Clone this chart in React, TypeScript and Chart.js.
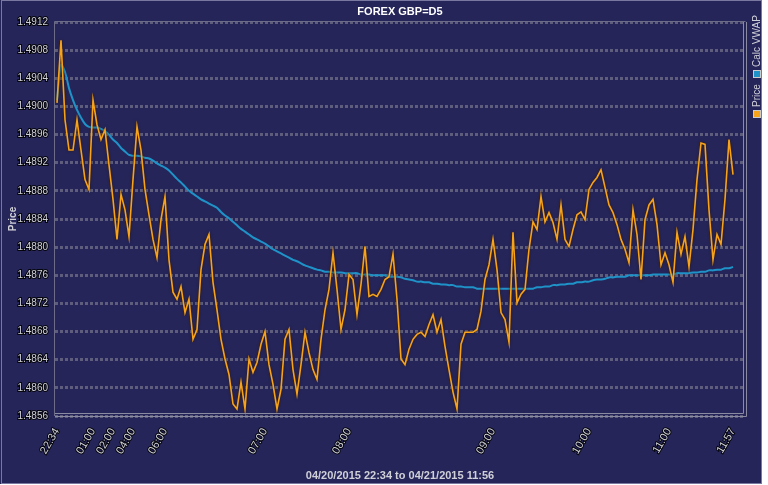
import React, { useEffect, useRef } from "react";
import { Chart, registerables } from "chart.js";

Chart.register(...registerables);

// Price samples (evenly spaced along the compressed time axis)
const priceValues = [
  1.49005, 1.49094, 1.48981, 1.48938, 1.48938, 1.48981, 1.48938, 1.48896, 1.48882, 1.49009,
  1.48974, 1.48953, 1.48967, 1.48917, 1.48868, 1.48811, 1.48875, 1.48853, 1.48815, 1.48896,
  1.48971, 1.48938, 1.48882, 1.48846, 1.48811, 1.48785, 1.48839, 1.48872, 1.48782, 1.48736,
  1.48726, 1.48744, 1.48707, 1.48726, 1.48669, 1.48683, 1.48768, 1.48804, 1.48818, 1.48750,
  1.48711, 1.48669, 1.48641, 1.48619, 1.48577, 1.48570, 1.48608, 1.48570, 1.48641, 1.48622,
  1.48636, 1.48662, 1.48680, 1.48633, 1.48605, 1.48570, 1.48598, 1.48669, 1.48683, 1.48626,
  1.48591, 1.48633, 1.48679, 1.48650, 1.48626, 1.48612, 1.48669, 1.48711, 1.48740, 1.48792,
  1.48740, 1.48683, 1.48711, 1.48761, 1.48754, 1.48704, 1.48747, 1.48801, 1.48730, 1.48733,
  1.48730, 1.48740, 1.48754, 1.48758, 1.48790, 1.48726, 1.48641, 1.48633, 1.48655, 1.48669,
  1.48676, 1.48679, 1.48673, 1.48690, 1.48704, 1.48679, 1.48697, 1.48659, 1.48626, 1.48594,
  1.48570, 1.48662, 1.48679, 1.48679, 1.48679, 1.48683, 1.48709, 1.48754, 1.48775, 1.48811,
  1.48768, 1.48707, 1.48697, 1.48665, 1.48821, 1.48721, 1.48733, 1.48740, 1.48797, 1.48836,
  1.48825, 1.48872, 1.48836, 1.48849, 1.48835, 1.48811, 1.48860, 1.48811, 1.48801, 1.48825,
  1.48846, 1.48850, 1.48839, 1.48882, 1.48892, 1.48899, 1.48910, 1.48885, 1.48860, 1.48849,
  1.48832, 1.48811, 1.48797, 1.48778, 1.48853, 1.48818, 1.48754, 1.48839, 1.48860, 1.48868,
  1.48832, 1.48775, 1.48792, 1.48775, 1.48750, 1.48821, 1.48790, 1.48815, 1.48772, 1.48825,
  1.48896, 1.48948, 1.48946, 1.48853, 1.48782, 1.48818, 1.48804, 1.48868, 1.48953, 1.48903,
];

const vwapValues = [
  1.49009, 1.49059, 1.49049, 1.49026, 1.49009, 1.48995, 1.48984, 1.48975, 1.48971, 1.48970,
  1.48970, 1.48968, 1.48965, 1.48960, 1.48953, 1.48948, 1.48941, 1.48936, 1.48931, 1.48930,
  1.48930, 1.48929, 1.48927, 1.48926, 1.48923, 1.48919, 1.48916, 1.48913, 1.48909, 1.48903,
  1.48897, 1.48892, 1.48886, 1.48880, 1.48876, 1.48872, 1.48868, 1.48865, 1.48862, 1.48859,
  1.48856, 1.48850, 1.48845, 1.48841, 1.48836, 1.48831, 1.48826, 1.48822, 1.48818, 1.48814,
  1.48811, 1.48808, 1.48805, 1.48801, 1.48797, 1.48794, 1.48791, 1.48788, 1.48785, 1.48782,
  1.48780, 1.48777, 1.48774, 1.48772, 1.48770, 1.48768, 1.48767, 1.48765, 1.48765, 1.48764,
  1.48764, 1.48764, 1.48763, 1.48763, 1.48763, 1.48763, 1.48761, 1.48761, 1.48761, 1.48760,
  1.48760, 1.48760, 1.48760, 1.48758, 1.48758, 1.48758, 1.48757, 1.48755, 1.48754, 1.48753,
  1.48751, 1.48751, 1.48750, 1.48750, 1.48748, 1.48748, 1.48747, 1.48747, 1.48746, 1.48746,
  1.48744, 1.48744, 1.48743, 1.48743, 1.48743, 1.48741, 1.48741, 1.48741, 1.48741, 1.48741,
  1.48741, 1.48741, 1.48741, 1.48741, 1.48741, 1.48741, 1.48741, 1.48741, 1.48741, 1.48741,
  1.48743, 1.48743, 1.48744, 1.48744, 1.48746, 1.48746, 1.48747, 1.48747, 1.48748, 1.48748,
  1.48750, 1.48750, 1.48751, 1.48751, 1.48753, 1.48754, 1.48754, 1.48755, 1.48757, 1.48757,
  1.48758, 1.48758, 1.48758, 1.48760, 1.48760, 1.48760, 1.48760, 1.48760, 1.48760, 1.48761,
  1.48761, 1.48761, 1.48761, 1.48761, 1.48761, 1.48763, 1.48763, 1.48763, 1.48763, 1.48764,
  1.48764, 1.48765, 1.48765, 1.48767, 1.48767, 1.48768, 1.48768, 1.48770, 1.48770, 1.48772,
];

const timeTickIndices = [0, 9, 14, 19, 27, 52, 73, 109, 133, 153, 169];
const timeTickLabels = ["22:34", "01:00", "02:00", "04:00", "06:00", "07:00", "08:00", "09:00", "10:00", "11:00", "11:57"];
const priceTickValues = [1.4856, 1.486, 1.4864, 1.4868, 1.4872, 1.4876, 1.488, 1.4884, 1.4888, 1.4892, 1.4896, 1.49, 1.4904, 1.4908, 1.4912];

const chartTitle = "FOREX GBP=D5";
const rangeText = "04/20/2015 22:34 to 04/21/2015 11:56";
const seriesNames = ["Price", "Calc VWAP"];
const seriesColors = ["#f7a21b", "#1f93c8"];

const BG = "#25255a";
const TXT = "#d0d0d8";

export default function App() {
  const ref = useRef<HTMLCanvasElement | null>(null);

  useEffect(() => {
    document.body.style.margin = "0";
    const canvas = ref.current;
    if (!canvas) return;

    const decor = {
      id: "decor",
      beforeDraw(chart: any) {
        const ctx = chart.ctx;
        ctx.save();
        ctx.fillStyle = "#ffffff";
        ctx.fillRect(0, 0, chart.width, chart.height);
        ctx.fillStyle = BG;
        ctx.fillRect(0, 0, 762, 484);
        ctx.strokeStyle = "#7878a0";
        ctx.lineWidth = 1;
        ctx.strokeRect(1.5, 0.5, 760, 483);
        ctx.restore();
      },
      beforeDatasetDraw(chart: any, args: any) {
        if (args.index === 0) {
          chart.ctx.save();
          chart.ctx.shadowColor = "rgba(50,25,0,1)";
          chart.ctx.shadowBlur = 3;
        }
      },
      afterDatasetDraw(chart: any, args: any) {
        if (args.index === 0) chart.ctx.restore();
      },
      afterDraw(chart: any) {
        const ctx = chart.ctx;
        const a = chart.chartArea;
        ctx.save();
        // plot frame
        ctx.strokeStyle = "#6c6c88";
        ctx.lineWidth = 1;
        ctx.beginPath();
        ctx.moveTo(a.left - 0.5, a.bottom);
        ctx.lineTo(a.left - 0.5, a.top - 0.5);
        ctx.lineTo(a.right + 0.5, a.top - 0.5);
        ctx.stroke();
        ctx.strokeStyle = "#8a8aa0";
        ctx.beginPath();
        ctx.moveTo(a.right - 1.5, a.top);
        ctx.lineTo(a.right - 1.5, a.bottom - 2.5);
        ctx.lineTo(a.left, a.bottom - 2.5);
        ctx.moveTo(a.right + 1.5, a.top);
        ctx.lineTo(a.right + 1.5, a.bottom + 0.5);
        ctx.lineTo(a.left, a.bottom + 0.5);
        ctx.stroke();

        ctx.textBaseline = "middle";
        // title
        ctx.fillStyle = "#ffffff";
        ctx.font = 'bold 11px "Liberation Sans"';
        ctx.textAlign = "center";
        ctx.fillText(chartTitle, (a.left + a.right) / 2, 12);
        // range text
        ctx.fillStyle = TXT;
        ctx.font = 'bold 11px "Liberation Sans"';
        ctx.fillText(rangeText, (a.left + a.right) / 2, 476);
        // y axis title
        ctx.save();
        ctx.translate(13, 219);
        ctx.rotate(-Math.PI / 2);
        ctx.font = 'bold 10px "Liberation Sans"';
        ctx.fillText("Price", 0, 0);
        ctx.restore();
        // legend (vertical)
        ctx.fillStyle = seriesColors[0];
        ctx.fillRect(753, 110, 8, 8);
        ctx.strokeStyle = "#cccccc";
        ctx.strokeRect(753.5, 110.5, 7, 7);
        ctx.fillStyle = seriesColors[1];
        ctx.fillRect(753, 70, 8, 8);
        ctx.strokeRect(753.5, 70.5, 7, 7);
        ctx.fillStyle = TXT;
        ctx.font = '10px "Liberation Sans"';
        ctx.textAlign = "left";
        ctx.save();
        ctx.translate(757, 107);
        ctx.rotate(-Math.PI / 2);
        ctx.fillText(seriesNames[0], 0, 0);
        ctx.restore();
        ctx.save();
        ctx.translate(757, 67);
        ctx.rotate(-Math.PI / 2);
        ctx.fillText(seriesNames[1], 0, 0);
        ctx.restore();
        ctx.restore();
      },
    };

    const chart = new Chart(canvas, {
      type: "line",
      data: {
        datasets: [
          {
            label: seriesNames[0],
            data: priceValues.map((v, i) => ({ x: i, y: v })),
            borderColor: seriesColors[0],
            borderWidth: 1.6,
            pointRadius: 0,
            tension: 0,
          },
          {
            label: seriesNames[1],
            data: vwapValues.map((v, i) => ({ x: i, y: v })),
            borderColor: seriesColors[1],
            borderWidth: 2,
            pointRadius: 0,
            tension: 0.3,
          },
        ],
      },
      plugins: [decor],
      options: {
        animation: false,
        responsive: false,
        devicePixelRatio: 1,
        layout: { padding: { top: 22, right: 23, left: 0, bottom: 0 } },
        plugins: {
          legend: { display: false },
          title: { display: false },
          tooltip: { enabled: false },
        },
        scales: {
          x: {
            type: "linear",
            min: -0.5,
            max: 172,
            afterBuildTicks: (s: any) => {
              s.ticks = timeTickIndices.map((v) => ({ value: v }));
            },
            afterFit: (s: any) => {
              s.height = 69;
            },
            grid: { display: false },
            border: { display: false },
            ticks: {
              autoSkip: false,
              minRotation: 60,
              maxRotation: 60,
              padding: 2,
              color: TXT,
              textStrokeColor: "rgba(0,0,0,0.85)",
              textStrokeWidth: 2,
              font: { size: 11, family: "Liberation Sans" },
              callback: (v: any) => {
                const i = timeTickIndices.indexOf(Number(v));
                return i >= 0 ? timeTickLabels[i] : "";
              },
            },
          },
          y: {
            min: 1.4856,
            max: 1.4912,
            afterBuildTicks: (s: any) => {
              s.ticks = priceTickValues.map((v) => ({ value: v }));
            },
            afterFit: (s: any) => {
              s.width = 55;
            },
            grid: { color: "#5e5e7c", lineWidth: 3, drawTicks: false },
            border: { display: false, dash: [3, 2] },
            ticks: {
              padding: 7,
              color: TXT,
              textStrokeColor: "rgba(0,0,0,0.85)",
              textStrokeWidth: 2,
              font: { size: 10, family: "Liberation Sans" },
              callback: (v: any) => Number(v).toFixed(4),
            },
          },
        },
      },
    } as any);

    return () => chart.destroy();
  }, []);

  return (
    <div style={{ width: 768, height: 485 }}>
      <canvas ref={ref} width={768} height={485} style={{ display: "block" }} />
    </div>
  );
}
